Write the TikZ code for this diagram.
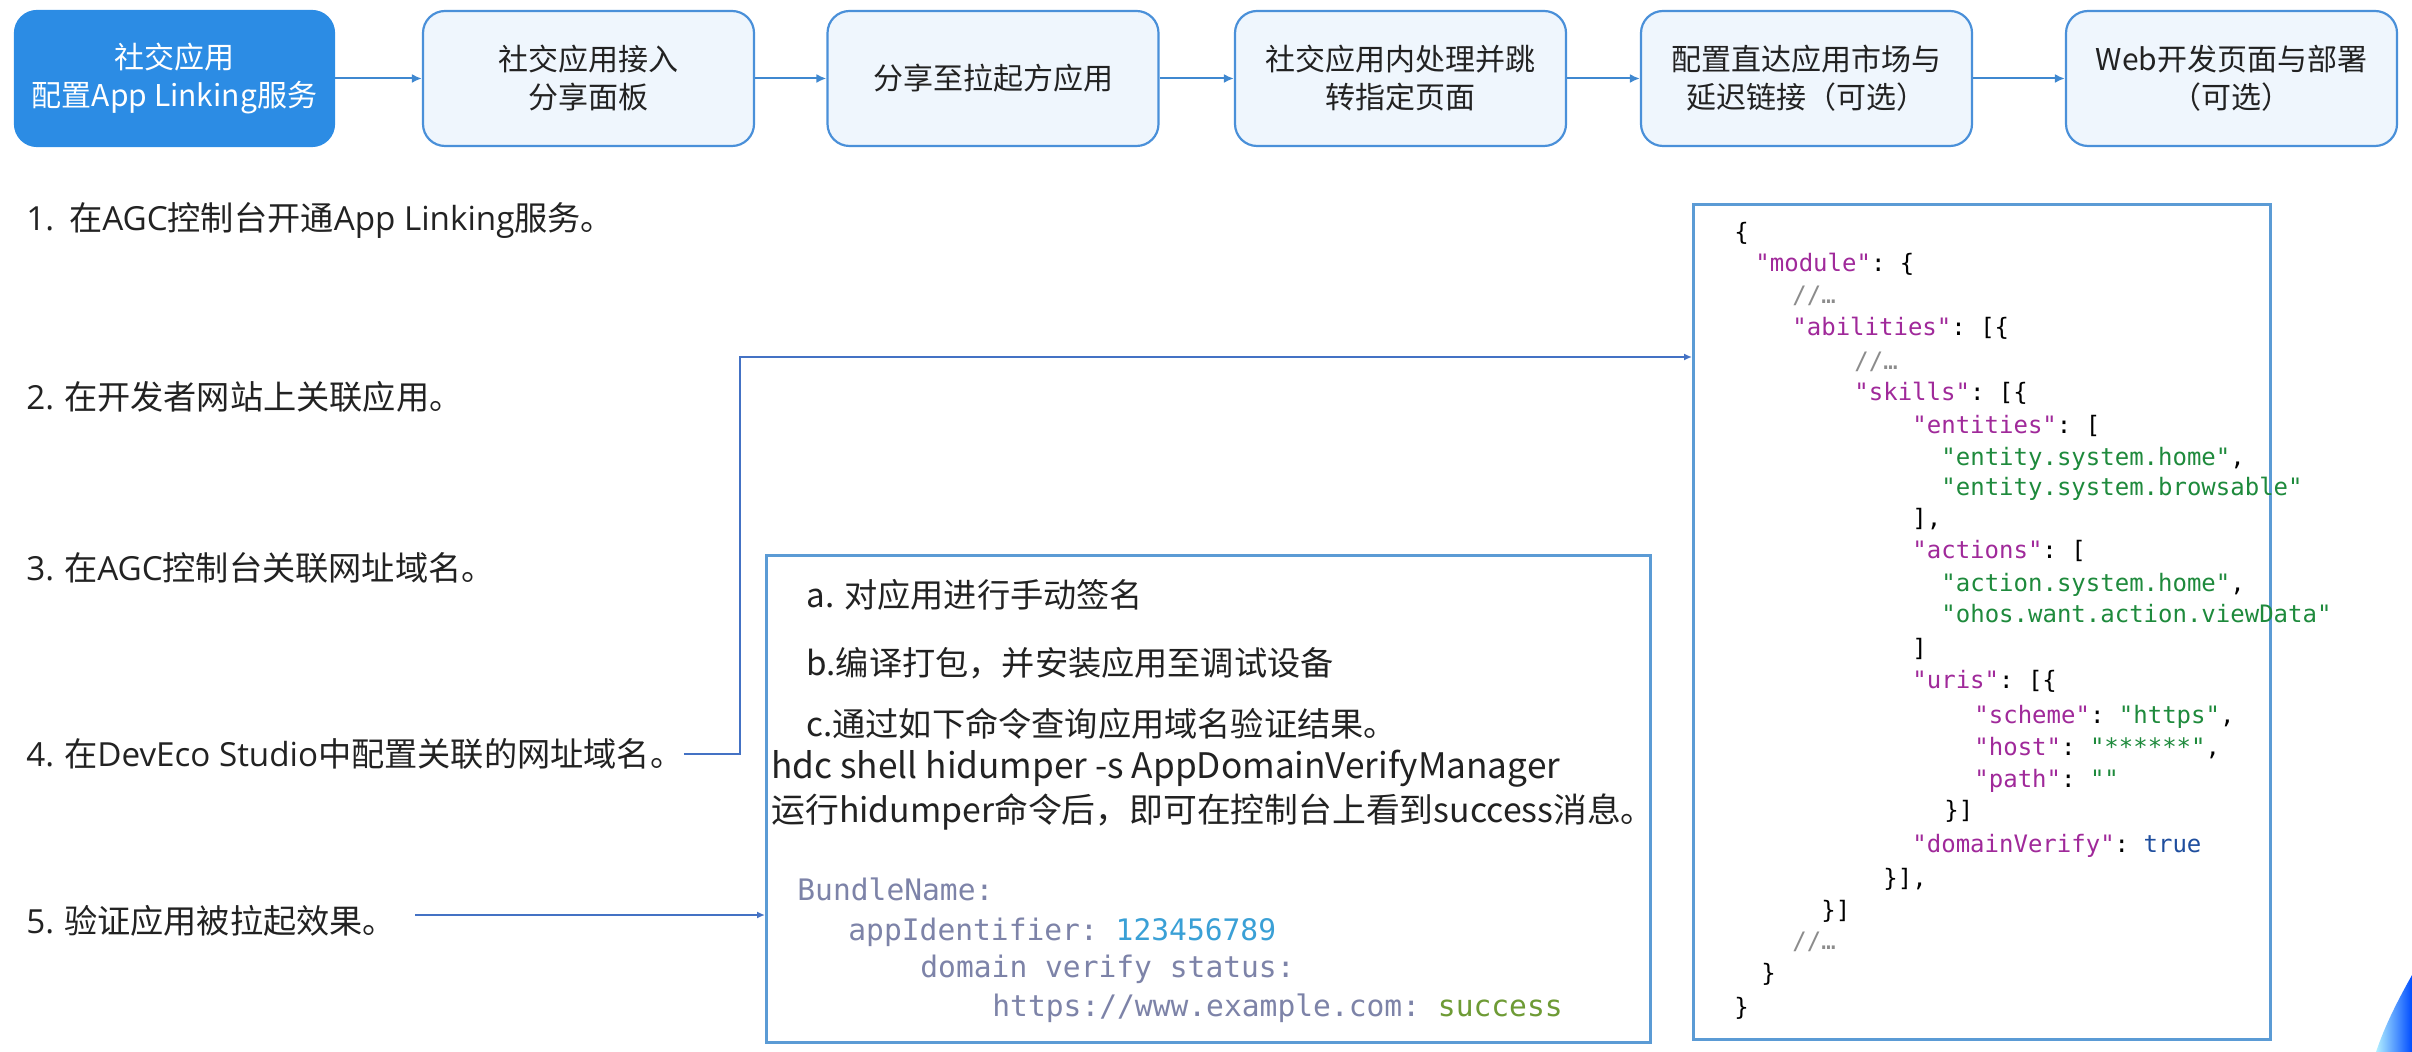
\documentclass[tikz,border=0pt]{standalone}
\usepackage{fontspec}
\setmainfont{Noto Sans CJK SC}
\setmonofont{DejaVu Sans Mono}
\newfontfamily\lat{Open Sans}
\usetikzlibrary{arrows.meta,calc}
\definecolor{firstblue}{HTML}{2C8CE4}
\definecolor{boxfill}{HTML}{EFF6FD}
\definecolor{boxline}{HTML}{4A90D9}
\definecolor{arrowblue}{HTML}{3F88D0}
\definecolor{codeline}{HTML}{5B9BD5}
\definecolor{connblue}{HTML}{4472C4}
\definecolor{jkey}{HTML}{A0299A}
\definecolor{jstr}{HTML}{1E8A3C}
\definecolor{jbool}{HTML}{1F4E9E}
\definecolor{jcom}{HTML}{8C8C8C}
\definecolor{midkey}{HTML}{7D83A8}
\definecolor{midnum}{HTML}{3AA0D6}
\definecolor{midok}{HTML}{6E9B35}
\definecolor{txt}{HTML}{222222}
\newcommand\jk[1]{\textcolor{jkey}{#1}}
\newcommand\js[1]{\textcolor{jstr}{#1}}
\newcommand\jb[1]{\textcolor{jbool}{#1}}
\newcommand\jc[1]{\textcolor{jcom}{#1}}
\tikzset{
  stepbox/.style={draw=boxline, line width=1.1pt, rounded corners=11pt, fill=boxfill,
    minimum width=165.5pt, minimum height=67.5pt, align=center, inner sep=0pt,
    font=\fontsize{15}{19}\selectfont, text=txt},
  firstbox/.style={stepbox, fill=firstblue, draw=firstblue, text=white, minimum width=159.5pt},
  flow/.style={-{Latex[length=5pt,width=4.5pt]}, draw=arrowblue, line width=1pt},
  conn/.style={-{Latex[length=4pt,width=3.5pt]}, draw=connblue, line width=0.8pt},
  listitem/.style={anchor=west, inner sep=0pt, font=\fontsize{16.6}{20}\selectfont, text=txt},
  panel/.style={draw=codeline, line width=1.4pt, fill=white, anchor=north west, inner sep=0pt},
  codeln/.style={anchor=west, inner sep=0pt, font=\ttfamily\fontsize{12}{14}\selectfont,
    text height=9pt, text depth=3pt, text=black},
  midtxt/.style={anchor=west, inner sep=0pt, font=\fontsize{16.6}{20}\selectfont, text=txt},
  midbig/.style={anchor=west, inner sep=0pt, font=\fontsize{17.6}{22}\selectfont, text=txt},
  midmono/.style={anchor=west, inner sep=0pt, font=\ttfamily\fontsize{14.8}{18}\selectfont,
    text height=11pt, text depth=3pt, text=midkey}
}
\begin{document}
\begin{tikzpicture}[x=0.5pt,y=-0.5pt]
\useasboundingbox (0,0) rectangle (2412,1052);

% top flow
\node[firstbox] (b1) at (174.5,78.5) {社交应用\\配置App Linking服务};
\node[stepbox] (b2) at (588.5,78.5) {社交应用接入\\分享面板};
\node[stepbox] (b3) at (993,78.5) {分享至拉起方应用};
\node[stepbox] (b4) at (1400.5,78.5) {社交应用内处理并跳\\转指定页面};
\node[stepbox] (b5) at (1806.5,78.5) {配置直达应用市场与\\延迟链接（可选）};
\node[stepbox] (b6) at (2231.5,78.5) {Web开发页面与部署\\（可选）};
\draw[flow] (b1) -- (b2);
\draw[flow] (b2) -- (b3);
\draw[flow] (b3) -- (b4);
\draw[flow] (b4) -- (b5);
\draw[flow] (b5) -- (b6);

% left list
\node[listitem] (l1) at (26,220) {{\lat 1.}\ \ 在{\lat AGC}控制台开通{\lat App Linking}服务。};
\node[listitem] (l2) at (26,397) {{\lat 2.} 在开发者网站上关联应用。};
\node[listitem] (l3) at (26,568) {{\lat 3.} 在{\lat AGC}控制台关联网址域名。};
\node[listitem] (l4) at (26,754) {{\lat 4.} 在{\lat DevEco Studio}中配置关联的网址域名。};
\node[listitem] (l5) at (26,921) {{\lat 5.} 验证应用被拉起效果。};

% panels
\node[panel, minimum width=288.5pt, minimum height=417.5pt] (code) at (1692,203) {};
\node[panel, minimum width=442pt, minimum height=243.5pt] (mid) at (765,554) {};

% connectors
\coordinate (bend) at (740,357);
\draw[conn] (l4.east) -| (bend) -- (bend -| code.west);
\coordinate (l5s) at (415,915);
\draw[conn] (l5s) -- (l5s -| mid.west);

% middle panel text
\node[midtxt] (ma) at (806,595) {a. 对应用进行手动签名};
\node[midtxt] (mb) at (806,663) {b.编译打包，并安装应用至调试设备};
\node[midtxt] (mc) at (806,724) {c.通过如下命令查询应用域名验证结果。};
\node[midbig] (md) at (771,769) {hdc shell hidumper -s AppDomainVerifyManager};
\node[midbig, font=\fontsize{16.9}{22}\selectfont] (me) at (771,812) {运行hidumper命令后，即可在控制台上看到success消息。};
\node[midmono] (m1) at (797,892) {BundleName:};
\node[midmono] (m2) at (848,932) {appIdentifier: \textcolor{midnum}{123456789}};
\node[midmono] (m3) at (920,969) {domain verify status:};
\node[midmono] (m4) at (992,1008) {https://www.example.com: \textcolor{midok}{success}};

% code panel text
\node[codeln] (c1)  at (1734,235)  {\{};
\node[codeln] (c2)  at (1755,266)  {\jk{"module"}: \{};
\node[codeln] (c3)  at (1792,298)  {\jc{//…}};
\node[codeln] (c4)  at (1792,330)  {\jk{"abilities"}: [\{};
\node[codeln] (c5)  at (1854,364)  {\jc{//…}};
\node[codeln] (c6)  at (1854,395)  {\jk{"skills"}: [\{};
\node[codeln] (c7)  at (1912,428)  {\jk{"entities"}: [};
\node[codeln] (c8)  at (1941,460)  {\js{"entity.system.home"},};
\node[codeln] (c9)  at (1941,490)  {\js{"entity.system.browsable"}};
\node[codeln] (c10) at (1912,521)  {],};
\node[codeln] (c11) at (1912,553)  {\jk{"actions"}: [};
\node[codeln] (c12) at (1941,586)  {\js{"action.system.home"},};
\node[codeln] (c13) at (1941,617)  {\js{"ohos.want.action.viewData"}};
\node[codeln] (c14) at (1912,650)  {]};
\node[codeln] (c15) at (1912,682)  {\jk{"uris"}: [\{};
\node[codeln] (c16) at (1974,717)  {\jk{"scheme"}: \js{"https"},};
\node[codeln] (c17) at (1974,749)  {\jk{"host"}: \js{"******"},};
\node[codeln] (c18) at (1974,781)  {\jk{"path"}: \js{""}};
\node[codeln] (c19) at (1944,812)  {\}]};
\node[codeln] (c20) at (1912,846)  {\jk{"domainVerify"}: \jb{true}};
\node[codeln] (c21) at (1883,880)  {\}],};
\node[codeln] (c22) at (1821,912)  {\}]};
\node[codeln] (c23) at (1792,943)  {\jc{//…}};
\node[codeln] (c24) at (1761,975)  {\}};
\node[codeln] (c25) at (1734,1009) {\}};

% corner decoration
\shade[left color=blue!20!cyan!30, right color=blue!70!cyan] (2412,975) .. controls (2398,1000) and (2385,1025) .. (2376,1052) -- (2412,1052) -- cycle;
\end{tikzpicture}
\end{document}
